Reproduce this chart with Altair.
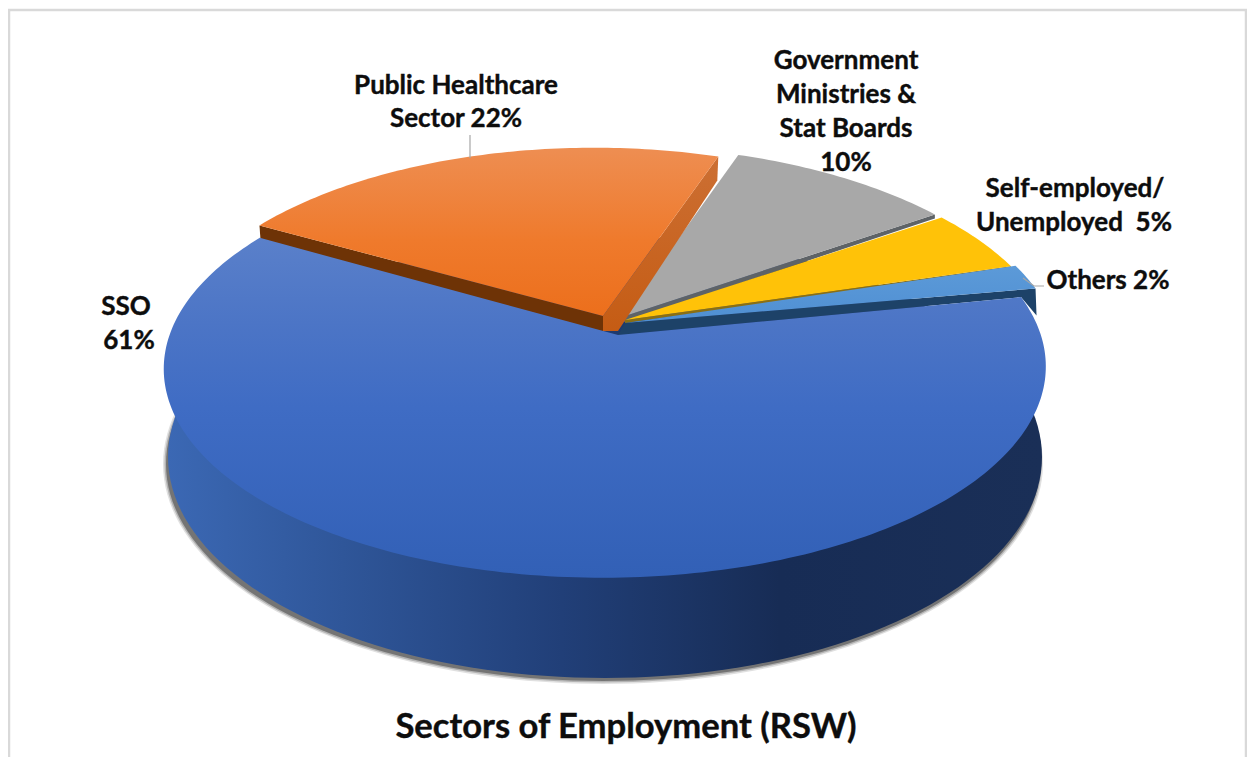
import math
import altair as alt

CATEGORIES = ["SSO", "Public Healthcare Sector", "Government Ministries & Stat Boards", "Self-employed/Unemployed", "Others"]
VALUES = [61, 22, 10, 5, 2]
LABELS = [
    ("Public Healthcare", 456, 86), ("Sector 22%", 456, 119),
    ("Government", 846, 61), ("Ministries &", 846, 95), ("Stat Boards", 846, 129), ("10%", 846, 163),
    ("Self-employed/", 1075, 189), ("Unemployed\u00a0\u00a05%", 1074, 223),
    ("Others 2%", 1108, 281),
    ("SSO", 126, 307), ("61%", 129, 341),
]
TITLE = "Sectors of Employment (RSW)"

START = 79.5          # pie rotation, degrees clockwise from the back of the plate
A, B, P, Q = 434.1, 203.8, 0.17, 0.034   # perspective of the plate
# slice geometry: centre of its rim, drawn hub, radius factor
SLICE = [
    dict(c=(620, 332), hub=(618, 335), r=1.0),
    dict(c=(606, 316), hub=(603, 316), r=0.96),
    dict(c=(622, 320), hub=(622, 317), r=1.0),
    dict(c=(626, 324), hub=(625, 320), r=1.01),
    dict(c=(627, 324), hub=(625, 323), r=1.02),
]

def rim_point(s, deg):
    t = math.radians(deg)
    u, v = s["r"] * math.sin(t), s["r"] * math.cos(t)
    d = 1 + P * v + Q * u
    return [s["c"][0] + A * u / d, s["c"][1] - B * v / d]

def ellipse(cx, cy, rx, ry):
    pts = [[cx + rx * math.cos(math.radians(a)), cy + ry * math.sin(math.radians(a))] for a in range(0, 360, 2)]
    return pts + [pts[0]]

def polygon(pts):
    pts = [list(p) for p in pts]
    if pts[0] != pts[-1]:
        pts.append(pts[0])
    return {"type": "Feature", "properties": {}, "geometry": {"type": "Polygon", "coordinates": [pts]}}

def line(pts):
    return {"type": "Feature", "properties": {}, "geometry": {"type": "LineString", "coordinates": pts}}

def shape(feature, **mark):
    return alt.Chart(alt.Data(values=[feature])).mark_geoshape(**mark).project(
        type="identity", scale=1, translate=[-8, -8])

def vgrad(*stops):
    return alt.Gradient(gradient="linear", x1=0, x2=0, y1=0, y2=1,
                        stops=[alt.GradientStop(offset=o, color=c) for o, c in stops])

def hgrad(*stops):
    return alt.Gradient(gradient="linear", x1=0, x2=1, y1=0, y2=0,
                        stops=[alt.GradientStop(offset=o, color=c) for o, c in stops])

# sector angle ranges from the values
angles = []
cur = START
for v in VALUES:
    angles.append((cur, cur + v * 3.6))
    cur += v * 3.6

def top(i):
    s = SLICE[i]
    a0, a1 = angles[i]
    n = max(8, int(a1 - a0))
    return [s["hub"]] + [rim_point(s, a0 + (a1 - a0) * k / n) for k in range(n + 1)]

def shift(p, dx, dy):
    return [p[0] + dx, p[1] + dy]

layers = []

# frame
layers.append(shape(line([[9, 766], [9, 10], [1246, 10], [1246, 766]]), filled=False, stroke="#d9d9d9", strokeWidth=2.5))

# shadow and the side wall of the plate
for grow, op in [(4, 0.12), (2.5, 0.2), (1, 0.35)]:
    layers.append(shape(polygon(ellipse(603, 464, 436 + grow, 216 + grow)), fill="#000000", opacity=op))
layers.append(shape(polygon(ellipse(605, 457, 437, 221)),
                    fill=hgrad((0, "#3b68b4"), (0.2, "#2f5699"), (0.45, "#213f78"), (0.7, "#172c55"), (1, "#1a2f57"))))

# dark wall under the small slice
lb = SLICE[4]
lb_end = rim_point(lb, angles[4][1])
blue_start = rim_point(SLICE[0], angles[0][0])
layers.append(shape(polygon([lb["hub"], lb_end, shift(lb_end, 1, 27), blue_start, SLICE[0]["hub"]]), fill="#1d4268"))

# Public healthcare left wall sits under the SSO top so that no gap shows
os_ = SLICE[1]
o_l = rim_point(os_, angles[1][0])
o_r = rim_point(os_, angles[1][1])
hub = os_["hub"]
layers.append(shape(polygon([hub, o_l, shift(o_l, 1, 14), shift(hub, 0, 18)]), fill="#6e3306"))

# SSO
layers.append(shape(polygon(top(0)), fill=vgrad((0, "#5a80ca"), (0.25, "#4c75c6"), (0.5, "#3f6cc4"), (1, "#3260b6"))))

# Government wall + top
gs = SLICE[2]
g_end = rim_point(gs, angles[2][1])
layers.append(shape(polygon([gs["hub"], g_end, shift(g_end, 0, 4), shift(gs["hub"], 2, 5)]), fill="#5e6367"))
layers.append(shape(polygon(top(2)), fill="#a8a8a8"))

# Self-employed wall + top
ys = SLICE[3]
y_end = rim_point(ys, angles[3][1])
layers.append(shape(polygon([ys["hub"], y_end, shift(y_end, 0, 3), shift(ys["hub"], 0, 3)]), fill="#8a6f14"))
layers.append(shape(polygon(top(3)), fill="#ffc208"))

# Others top
layers.append(shape(polygon(top(4)), fill=vgrad((0, "#5c9ad8"), (1, "#4f8fd3"))))

# Public healthcare right wall + top
layers.append(shape(polygon([hub, o_r, shift(o_r, -1, 24), shift(hub, 15, 15), shift(hub, 0, 15)]),
                    fill=vgrad((0, "#cc6f33"), (1, "#c55c14"))))
layers.append(shape(polygon(top(1)), fill=vgrad((0, "#ee8e52"), (0.55, "#ef7a2c"), (1, "#ec6f1c"))))

# leader lines
layers.append(shape(line([[470, 158], [470, 135]]), filled=False, stroke="#a6a6a6", strokeWidth=1.2))
layers.append(shape(line([[1023, 278], [1034, 286], [1044, 286]]), filled=False, stroke="#a6a6a6", strokeWidth=1.2))

# labels
for text, x, y in LABELS:
    layers.append(alt.Chart(alt.Data(values=[{"t": text}])).mark_text(
        font="Lato", fontWeight="bold", fontSize=26, color="#0d0d0d", align="center", baseline="middle",
        stroke="#0d0d0d", strokeWidth=0.4
    ).encode(text="t:N", x=alt.value(x - 8), y=alt.value(y - 8)))
layers.append(alt.Chart(alt.Data(values=[{"t": TITLE}])).mark_text(
    font="Lato", fontWeight="bold", fontSize=34.6, color="#0d0d0d", align="center", baseline="middle",
    stroke="#0d0d0d", strokeWidth=0.4
).encode(text="t:N", x=alt.value(626 - 8), y=alt.value(728 - 8)))

chart = alt.layer(*layers).properties(
    width=1239, height=749, padding=0, autosize=alt.AutoSizeParams(type="none"), background="white"
).configure_view(strokeWidth=0)

chart.save("out.html", embed_options={"renderer": "svg", "actions": False})
